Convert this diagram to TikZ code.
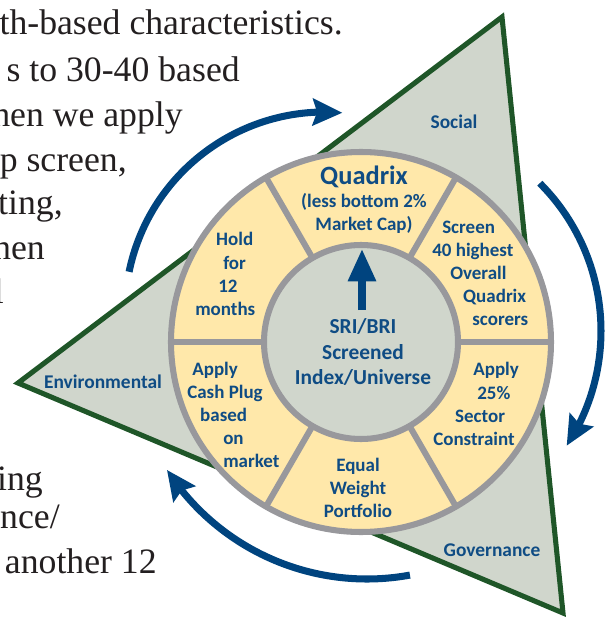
\documentclass[tikz,border=0pt]{standalone}
\usepackage{fontspec}
\setmainfont{Liberation Serif}
\newfontfamily\calibri{Carlito}
\usetikzlibrary{arrows.meta,bending}

\definecolor{esgfill}{HTML}{D0D6CC}
\definecolor{esgline}{HTML}{1F5628}
\definecolor{ringgray}{HTML}{98989C}
\definecolor{stepfill}{HTML}{FFE8AA}
\definecolor{stepblue}{HTML}{0F4C84}
\definecolor{cycleblue}{HTML}{00447F}
\definecolor{bodyink}{HTML}{231F20}

\begin{document}
\begin{tikzpicture}[x=0.025cm,y=0.025cm,
  body/.style={font=\fontsize{25.4}{32}\selectfont,text=bodyink,inner sep=0pt,anchor=base east},
  steptext/.style={font=\calibri\bfseries\fontsize{13.5}{16.4}\selectfont,text=stepblue,inner sep=0pt,align=center},
  esgtext/.style={font=\calibri\bfseries\fontsize{13.8}{16}\selectfont,text=stepblue,inner sep=0pt},
  ring/.style={draw=ringgray,line width=4.3pt},
  cyclearrow/.style={draw=cycleblue,line width=5pt,-{Stealth[length=21pt,width=19pt,inset=3pt]}}]
\useasboundingbox (-361,-277) rectangle (252,342);
\clip (-361,-277) rectangle (252,342);
% ---------- running text beside the figure ----------
\node[body] (t1) at (-18,307) {th-based characteristics.};
\node[body] (t2) at (-121,260) {s to 30-40 based};
\node[body] (t3) at (-178,215) {hen we apply};
\node[body] (t4) at (-234,170) {p screen,};
\node[body] (t5) at (-298,127) {ting,};
\node[body] (t6) at (-316,82) {hen};
\node[body] (t7) at (-357,39) {l};
\node[body] (t8) at (-318,-148) {ing};
\node[body] (t9) at (-301,-186) {ance/};
\node[body] (t10) at (-204,-231) {another 12};
% ---------- ESG triangle ----------
\filldraw[fill=esgfill,draw=esgline,line width=3.6pt,line join=miter]
  (141,325) -- (-343,-41) -- (202,-271) -- cycle;
\node[esgtext] (social) at (93,220) {Social};
\node[esgtext] (env) at (-258,-40) {Environmental};
\node[esgtext] (gov) at (131,-208) {Governance};
% ---------- process wheel ----------
\fill[stepfill] (0,0) circle[radius=190];
\fill[esgfill] (0,0) circle[radius=97];
\foreach \a in {0,60,...,300}
  \draw[ring] (\a:97) -- (\a:190);
\draw[ring] (0,0) circle[radius=190];
\draw[ring] (0,0) circle[radius=97];
\node[steptext] (quadrix) at (3,142)
  {{\fontsize{18.8}{20}\selectfont Quadrix}\\(less bottom 2\%\\Market Cap)};
\node[steptext,align=left,anchor=west] (screen) at (71,69)
  {\hspace*{7.1pt}Screen\\40 highest\\\hspace*{12.8pt}Overall\\\hspace*{22pt}Quadrix\\\hspace*{28.5pt}scorers};
\node[steptext,align=left,anchor=west] (sector) at (72,-62)
  {\hspace*{28.5pt}Apply\\\hspace*{31.3pt}25\%\\\hspace*{15.6pt}Sector\\Constraint};
\node[steptext] (equal) at (-3,-146) {Equal\\Weight\\Portfolio};
\node[steptext,align=left,anchor=west] (cash) at (-174,-73)
  {\hspace*{3.6pt}Apply\\Cash Plug\\\hspace*{9.2pt}based\\\hspace*{25.6pt}on\\\hspace*{25.6pt}market};
\node[steptext,align=left,anchor=west] (hold) at (-166,68)
  {\hspace*{14.9pt}Hold\\\hspace*{19.9pt}for\\\hspace*{16.4pt}12\\months};
\node[steptext,font=\calibri\bfseries\fontsize{15.2}{18.1}\selectfont] (core) at (2,-10)
  {SRI/BRI\\Screened\\Index/Universe};
\coordinate (coretail) at (1,32);
\coordinate (coretip) at (1,93);
\draw[cycleblue,line width=5pt,-{Triangle[length=23pt,width=19pt]}] (coretail) -- (coretip);
% ---------- cycle arrows ----------
\draw[cyclearrow,shift={(-36,30)}] (168.4:200) arc[start angle=168.4,end angle=85,radius=200];
\draw[cyclearrow,shift={(31,11)}] (45:209) arc[start angle=45,end angle=-33.3,radius=209];
\draw[cyclearrow,shift={(6,1)}] (-79.6:238) arc[start angle=-79.6,end angle=-147.2,radius=238];
\end{tikzpicture}
\end{document}
